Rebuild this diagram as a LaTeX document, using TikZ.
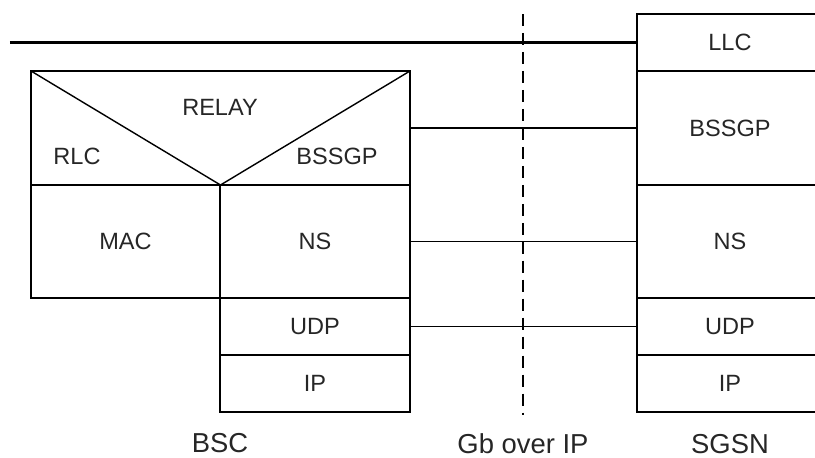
\documentclass[tikz,border=0pt]{standalone}
\usepackage{fontspec}
\setmainfont{Liberation Sans}
\usepackage{tikz}
\pgfdeclarelayer{edgelayer}
\pgfdeclarelayer{nodelayer}
\pgfsetlayers{edgelayer,nodelayer,main}
\tikzstyle{layerbox}=[rectangle, draw=black, line width=0.8pt, inner sep=0pt, outer sep=0pt, minimum width=3.8cm, text=black!85, font=\fontsize{13.4}{16}\selectfont]
\tikzstyle{tall}=[minimum height=2.26cm]
\tikzstyle{short}=[minimum height=1.14cm]
\tikzstyle{tag}=[inner sep=0pt, text=black!85, font=\fontsize{13.4}{16}\selectfont]
\tikzstyle{caption}=[inner sep=0pt, text=black!85, font=\fontsize{15.6}{18}\selectfont]
\tikzstyle{edge}=[draw=black, line width=0.8pt]
\tikzstyle{thickedge}=[draw=black, line width=1.7pt]
\tikzstyle{border}=[draw=black, line width=0.8pt, dash pattern=on 7pt off 3.8pt]

\begin{document}
\begin{tikzpicture}
	\useasboundingbox (0,0) rectangle (16.3,9.14);
	\clip (0,0) rectangle (16.3,9.14);
	\begin{pgfonlayer}{nodelayer}
		% BSC
		\node [style=layerbox, minimum width=7.58cm, minimum height=2.28cm] (relay) at (4.41, 6.58) {};
		\node [style=layerbox, style=tall, minimum width=3.78cm] (mac) at (2.51, 4.31) {MAC};
		\node [style=layerbox, style=tall] (bscns) at (6.3, 4.31) {NS};
		\node [style=layerbox, style=short] (bscudp) at (6.3, 2.61) {UDP};
		\node [style=layerbox, style=short] (bscip) at (6.3, 1.47) {IP};
		\node [style=tag] (relaytext) at (4.4, 7.0) {RELAY};
		\node [style=tag] (rlc) at (1.54, 6.02) {RLC};
		\node [style=tag] (bscbssgp) at (6.74, 6.02) {BSSGP};
		% SGSN
		\node [style=layerbox, style=short, minimum width=3.72cm] (llc) at (14.6, 8.29) {LLC};
		\node [style=layerbox, minimum width=3.72cm, minimum height=2.28cm] (sgsnbssgp) at (14.6, 6.58) {BSSGP};
		\node [style=layerbox, style=tall, minimum width=3.72cm] (sgsnns) at (14.6, 4.31) {NS};
		\node [style=layerbox, style=short, minimum width=3.72cm] (sgsnudp) at (14.6, 2.61) {UDP};
		\node [style=layerbox, style=short, minimum width=3.72cm] (sgsnip) at (14.6, 1.47) {IP};
		% captions
		\node [style=caption] (bsc) at (4.4, 0.28) {BSC};
		\node [style=caption] (gb) at (10.46, 0.26) {Gb over IP};
		\node [style=caption] (sgsn) at (14.6, 0.26) {SGSN};
		\coordinate (linestart) at (0.2, 8.29);
		\coordinate (gbtop) at (10.46, 8.86);
		\coordinate (gbbottom) at (10.46, 0.84);
	\end{pgfonlayer}
	\begin{pgfonlayer}{edgelayer}
		\draw [style=edge] (relay.north west) -- (relay.south) -- (relay.north east);
		\draw [style=thickedge] (linestart) to (llc.west);
		\draw [style=edge] (relay.east) to (sgsnbssgp.west);
		\draw [style=edge] (bscns.east) to (sgsnns.west);
		\draw [style=edge] (bscudp.east) to (sgsnudp.west);
		\draw [style=border] (gbtop) to (gbbottom);
	\end{pgfonlayer}
\end{tikzpicture}
\end{document}
